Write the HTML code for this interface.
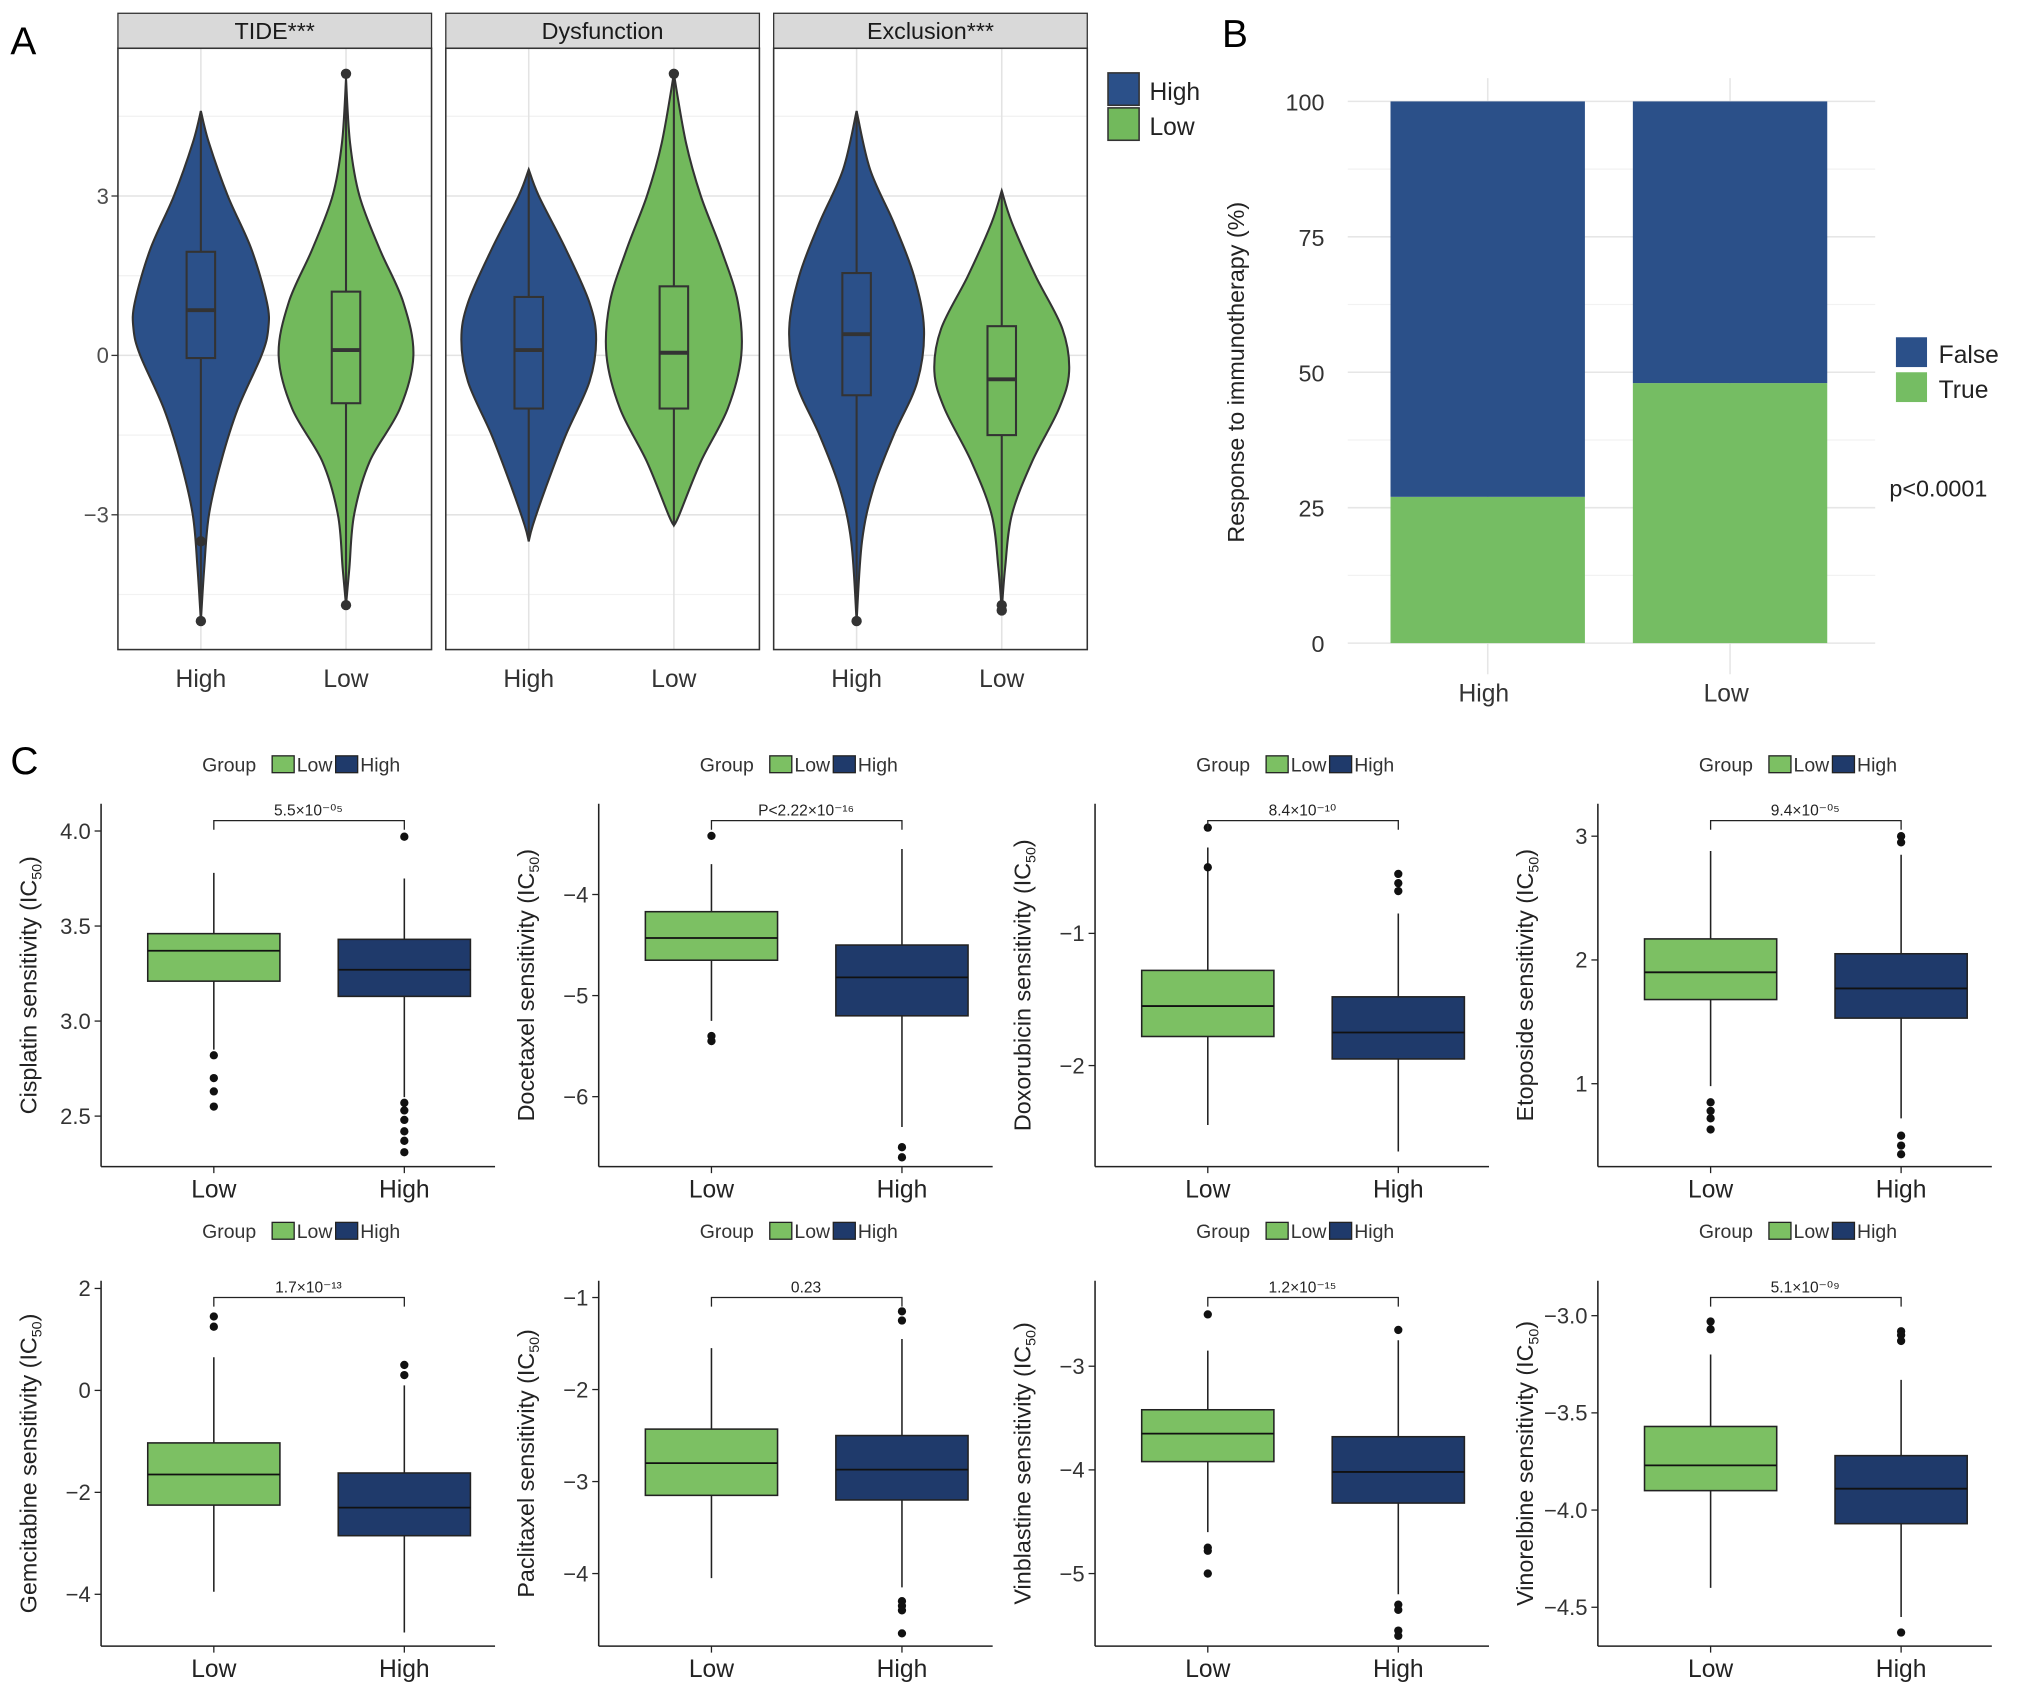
<!DOCTYPE html>
<html><head><meta charset="utf-8"><style>
html,body{margin:0;padding:0;background:#fff;}
svg{display:block;font-family:"Liberation Sans",sans-serif;}
</style></head><body>
<svg id="fig" width="2032" height="1697" viewBox="0 0 1568 1309" xmlns="http://www.w3.org/2000/svg"></svg>
<script>
// ---------- Panel A data ----------
const facetNames = ["TIDE***", "Dysfunction", "Exclusion***"];
const groupsA = ["High", "Low"];
const violinShapes = [
  [[4.6,0],[4,0.12],[3,0.4],[2,0.75],[1,0.98],[0.5,1],[0,0.9],[-1,0.55],[-2,0.3],[-3,0.12],[-4,0.05],[-5,0]],
  [[5.2,0],[4,0.06],[3,0.2],[2,0.5],[1,0.85],[0,1],[-1,0.8],[-2,0.35],[-3,0.12],[-4,0.05],[-4.7,0]],
  [[3.5,0],[3,0.15],[2,0.55],[1,0.9],[0.3,1],[-0.5,0.9],[-1.5,0.55],[-2.5,0.25],[-3.2,0.06],[-3.5,0]],
  [[5.3,0],[4,0.18],[3,0.4],[2,0.7],[1,0.95],[0,1],[-1,0.8],[-2,0.4],[-3,0.08],[-3.2,0]],
  [[4.6,0],[3.5,0.2],[2.5,0.55],[1.5,0.85],[0.5,1],[-0.5,0.9],[-1.5,0.55],[-2.5,0.25],[-3.5,0.08],[-5,0]],
  [[3.1,0],[2.5,0.15],[1.5,0.5],[0.5,0.9],[-0.3,1],[-1,0.85],[-2,0.45],[-3,0.15],[-4,0.05],[-4.8,0]]
];
// [min, q1, median, q3, max]
const violinBoxes = [
  [-5,-0.05,0.85,1.95,4.6],[-4.7,-0.9,0.1,1.2,5.3],
  [-3.5,-1.0,0.1,1.1,3.5],[-3.2,-1.0,0.05,1.3,5.3],
  [-5,-0.75,0.4,1.55,4.6],[-4.8,-1.5,-0.45,0.55,3.1]
];
const violinPoints = [[-5,-3.5],[5.3,-4.7],[],[5.3],[-5],[-4.7,-4.8]];
const ticksA = [-3, 0, 3];

// ---------- Panel B data ----------
const groupsB = ["High", "Low"];
const trueB = [27, 48];
const falseB = [73, 52];
const ticksB = [0, 25, 50, 75, 100];

// ---------- Panel C data ----------
const drugs = ["Cisplatin","Docetaxel","Doxorubicin","Etoposide","Gemcitabine","Paclitaxel","Vinblastine","Vinorelbine"];
const pvals = ["5.5×10⁻⁰⁵","P<2.22×10⁻¹⁶","8.4×10⁻¹⁰","9.4×10⁻⁰⁵","1.7×10⁻¹³","0.23","1.2×10⁻¹⁵","5.1×10⁻⁰⁹"];
const tickVals = [[2.5,3.0,3.5,4.0],[-6,-5,-4],[-2,-1],[1,2,3],[-4,-2,0,2],[-4,-3,-2,-1],[-5,-4,-3],[-4.5,-4.0,-3.5,-3.0]];
const tickLabels = [["2.5","3.0","3.5","4.0"],["−6","−5","−4"],["−2","−1"],["1","2","3"],["−4","−2","0","2"],["−4","−3","−2","−1"],["−5","−4","−3"],["−4.5","−4.0","−3.5","−3.0"]];
const lowStats = [[2.85,3.21,3.37,3.46,3.78],[-5.25,-4.65,-4.43,-4.17,-3.7],[-2.45,-1.78,-1.55,-1.28,-0.35],[0.98,1.68,1.9,2.17,2.88],
  [-3.95,-2.25,-1.65,-1.03,0.65],[-4.05,-3.15,-2.8,-2.43,-1.55],[-4.6,-3.92,-3.65,-3.42,-2.85],[-4.4,-3.9,-3.77,-3.57,-3.2]];
const highStats = [[2.6,3.13,3.27,3.43,3.75],[-6.3,-5.2,-4.82,-4.5,-3.55],[-2.65,-1.95,-1.75,-1.48,-0.85],[0.72,1.53,1.77,2.05,2.85],
  [-4.75,-2.85,-2.3,-1.62,0.1],[-4.15,-3.2,-2.87,-2.5,-1.45],[-5.2,-4.32,-4.02,-3.68,-2.75],[-4.55,-4.07,-3.89,-3.72,-3.33]];
const lowOut = [[2.82,2.7,2.63,2.55],[-3.42,-5.4,-5.45],[-0.2,-0.5],[0.85,0.78,0.72,0.63],[1.45,1.25],[],[-2.5,-4.75,-4.78,-5.0],[-3.03,-3.07]];
const highOut = [[3.97,2.57,2.53,2.48,2.42,2.37,2.31],[-6.5,-6.6],[-0.55,-0.62,-0.68],[3.0,2.95,0.58,0.5,0.43],[0.5,0.3],[-1.15,-1.25,-4.3,-4.35,-4.4,-4.65],[-2.65,-5.3,-5.35,-5.55,-5.6],[-3.08,-3.1,-3.13,-4.63]];
const yDomains = [[4.0,2.5],[-4,-6],[-1,-2],[3,1],[2,-4],[-1,-4],[-3,-5],[-3.0,-4.5]];

const NS = "http://www.w3.org/2000/svg";
const svg = document.getElementById("fig");
function mk(tag, attrs, name, parent, text) {
  const el = document.createElementNS(NS, tag);
  for (const k in attrs) el.setAttribute(k, attrs[k]);
  
  
  if (text !== undefined) el.textContent = text;
  (parent || svg).appendChild(el);
  return el;
}
function smoothPath(P) {
  let d = "M" + P[0][0] + "," + P[0][1];
  for (let i = 0; i < P.length - 1; i++) {
    const p0 = P[Math.max(i-1,0)], p1 = P[i], p2 = P[i+1], p3 = P[Math.min(i+2,P.length-1)];
    const c1 = [p1[0] + (p2[0]-p0[0])/6, p1[1] + (p2[1]-p0[1])/6];
    const c2 = [p2[0] - (p3[0]-p1[0])/6, p2[1] - (p3[1]-p1[1])/6];
    d += ` C${c1[0]},${c1[1]} ${c2[0]},${c2[1]} ${p2[0]},${p2[1]}`;
  }
  return d + "Z";
}
const BLUE = "#2b5089", GREEN = "#72b95c", NAVY = "#1f3a6b", LGREEN = "#7cc063";

// ---------- Panel A ----------
mk("text", {x:8, y:42, "font-size":30}, "panel-a-label", svg, "A");
const facetX = [91, 344, 597], facetW = 242, pTop = 37, pBot = 501;
const yA = v => 274 - v * 41;
facetX.forEach((fx, f) => {
  const g = mk("g", {}, "facet-" + f);
  mk("rect", {x:fx, y:10, width:facetW, height:27, fill:"#d9d9d9", stroke:"#333", "stroke-width":1}, "facet-strip", g);
  mk("text", {x:fx + facetW/2, y:30, "font-size":18, "text-anchor":"middle", fill:"#1a1a1a"}, "facet-title", g, facetNames[f]);
  mk("rect", {x:fx, y:pTop, width:facetW, height:pBot-pTop, fill:"#fff"}, "facet-bg", g);
  [-4.5,-1.5,1.5,4.5].forEach(v => mk("line", {x1:fx, x2:fx+facetW, y1:yA(v), y2:yA(v), stroke:"#f2f2f2"}, "minor-grid", g));
  ticksA.forEach(v => mk("line", {x1:fx, x2:fx+facetW, y1:yA(v), y2:yA(v), stroke:"#e3e3e3", "stroke-width":1.2}, "major-grid", g));
  [64, 176].forEach(o => mk("line", {x1:fx+o, x2:fx+o, y1:pTop, y2:pBot, stroke:"#e3e3e3", "stroke-width":1.2}, "x-grid", g));
  groupsA.forEach((gr, i) => {
    const k = f*2 + i, cx = fx + (i ? 176 : 64), col = i ? GREEN : BLUE;
    const shp = violinShapes[k];
    let pts = shp.map(p => [cx + p[1]*52, yA(p[0])]);
    pts = pts.concat(shp.slice(1, -1).reverse().map(p => [cx - p[1]*52, yA(p[0])]));
    const right = shp.map(p => [cx + p[1]*52, yA(p[0])]);
    const left = shp.slice().reverse().map(p => [cx - p[1]*52, yA(p[0])]);
    const dR = smoothPath(right).slice(0, -1);
    const dL = smoothPath(left).slice(0, -1).replace(/^M[^ C]+/, "");
    mk("path", {d: dR + " L" + left[0][0] + "," + left[0][1] + dL + "Z", fill:col, stroke:"#333", "stroke-width":1.6}, "violin-" + gr.toLowerCase(), g);
    const b = violinBoxes[k];
    mk("line", {x1:cx, x2:cx, y1:yA(b[0]), y2:yA(b[4]), stroke:"#333", "stroke-width":1.6}, "whisker", g);
    mk("rect", {x:cx-11, y:yA(b[3]), width:22, height:yA(b[1])-yA(b[3]), fill:col, stroke:"#333", "stroke-width":1.6}, "box", g);
    mk("line", {x1:cx-11, x2:cx+11, y1:yA(b[2]), y2:yA(b[2]), stroke:"#333", "stroke-width":3}, "median", g);
    violinPoints[k].forEach(v => mk("circle", {cx:cx, cy:yA(v), r:4, fill:"#333"}, "outlier", g));
    mk("text", {x:cx, y:530, "font-size":19, "text-anchor":"middle", fill:"#333"}, "x-tick-label", g, gr);
  });
  mk("rect", {x:fx, y:pTop, width:facetW, height:pBot-pTop, fill:"none", stroke:"#333", "stroke-width":1.2}, "facet-border", g);
});
ticksA.forEach(v => {
  mk("text", {x:84, y:yA(v)+6, "font-size":17, "text-anchor":"end", fill:"#4d4d4d"}, "y-tick-label", svg, v < 0 ? "−" + (-v) : String(v));
  mk("line", {x1:86, x2:91, y1:yA(v), y2:yA(v), stroke:"#333"}, "y-tick", svg);
});
[["High", BLUE, 56],["Low", GREEN, 83]].forEach(l => {
  mk("rect", {x:855, y:l[2], width:24, height:25, fill:l[1], stroke:"#333", "stroke-width":1.2}, "legend-key-" + l[0].toLowerCase());
  mk("text", {x:887, y:l[2]+21, "font-size":19, fill:"#222"}, "legend-label-" + l[0].toLowerCase(), svg, l[0]);
});

// ---------- Panel B ----------
mk("text", {x:943, y:36, "font-size":30}, "panel-b-label", svg, "B");
const yB = v => 496 - v * 4.18;
[12.5,37.5,62.5,87.5].forEach(v => mk("line", {x1:1040, x2:1447, y1:yB(v), y2:yB(v), stroke:"#f2f2f2"}, "minor-grid"));
ticksB.forEach(v => {
  mk("line", {x1:1040, x2:1447, y1:yB(v), y2:yB(v), stroke:"#e6e6e6", "stroke-width":1.2}, "major-grid");
  mk("text", {x:1022, y:yB(v)+7, "font-size":18, "text-anchor":"end", fill:"#333"}, "y-tick-label", svg, String(v));
});
const barX = [1073, 1260];
groupsB.forEach((gr, i) => {
  mk("line", {x1:barX[i]+75, x2:barX[i]+75, y1:60, y2:520, stroke:"#e6e6e6", "stroke-width":1.2}, "x-grid");
});
groupsB.forEach((gr, i) => {
  mk("rect", {x:barX[i], y:yB(trueB[i]), width:150, height:yB(0)-yB(trueB[i]), fill:"#75bd63"}, "bar-true-" + gr.toLowerCase());
  mk("rect", {x:barX[i], y:yB(trueB[i]+falseB[i]), width:150, height:yB(trueB[i])-yB(trueB[i]+falseB[i]), fill:BLUE}, "bar-false-" + gr.toLowerCase());
  mk("text", {x:barX[i]+72, y:541, "font-size":19, "text-anchor":"middle", fill:"#333"}, "x-tick-label", svg, gr);
});
mk("text", {x:0, y:0, "font-size":18, "text-anchor":"middle", fill:"#222", transform:"translate(960,287) rotate(-90)"}, "y-axis-title", svg, "Response to immunotherapy (%)");
[["False", BLUE, 260],["True", "#75bd63", 287]].forEach(l => {
  mk("rect", {x:1463, y:l[2], width:24, height:23, fill:l[1]}, "legend-key-" + l[0].toLowerCase());
  mk("text", {x:1496, y:l[2]+20, "font-size":19, fill:"#222"}, "legend-label-" + l[0].toLowerCase(), svg, l[0]);
});
mk("text", {x:1458, y:383, "font-size":18, fill:"#222"}, "p-value", svg, "p<0.0001");

// ---------- Panel C ----------
mk("text", {x:8, y:597, "font-size":30}, "panel-c-label", svg, "C");
const axX = [78, 462, 845, 1233];
const refPx = [[641,861],[690,846],[720,822],[645,836],[994,1230],[1001,1214],[1054,1214],[1015,1240]];
drugs.forEach((d, k) => {
  const row = k < 4 ? 0 : 1, col = k % 4, ax = axX[col];
  const top = row ? 988 : 620, bot = row ? 1270 : 900;
  const [v0, v1] = yDomains[k], [p0, p1] = refPx[k];
  const y = v => p0 + (v - v0) * (p1 - p0) / (v1 - v0);
  const g = mk("g", {}, "boxplot-" + d.toLowerCase());
  const ly = row ? 949 : 589;
  mk("text", {x:ax+78, y:ly+6, "font-size":15, fill:"#333"}, "legend-title", g, "Group");
  mk("rect", {x:ax+132, y:ly-6, width:17, height:13, fill:LGREEN, stroke:"#222"}, "legend-key-low", g);
  mk("text", {x:ax+151, y:ly+6, "font-size":15, fill:"#333"}, "legend-label-low", g, "Low");
  mk("rect", {x:ax+181, y:ly-6, width:17, height:13, fill:NAVY, stroke:"#222"}, "legend-key-high", g);
  mk("text", {x:ax+200, y:ly+6, "font-size":15, fill:"#333"}, "legend-label-high", g, "High");
  mk("line", {x1:ax, x2:ax, y1:top, y2:bot, stroke:"#222", "stroke-width":1.2}, "y-axis", g);
  mk("line", {x1:ax, x2:ax+304, y1:bot, y2:bot, stroke:"#222", "stroke-width":1.2}, "x-axis", g);
  tickVals[k].forEach((v, t) => {
    mk("line", {x1:ax-5, x2:ax, y1:y(v), y2:y(v), stroke:"#222"}, "y-tick", g);
    mk("text", {x:ax-8, y:y(v)+6, "font-size":17, "text-anchor":"end", fill:"#333"}, "y-tick-label", g, tickLabels[k][t]);
  });
  const t = mk("text", {x:0, y:0, "font-size":18, "text-anchor":"middle", fill:"#222", transform:`translate(${ax-50},${(top+bot)/2}) rotate(-90)`}, "y-axis-title", g, d + " sensitivity (IC");
  mk("tspan", {"font-size":11, dy:4}, "subscript", t, "50");
  mk("tspan", {dy:-4}, "paren", t, ")");
  [[lowStats[k], lowOut[k], 87, LGREEN, "Low"], [highStats[k], highOut[k], 234, NAVY, "High"]].forEach(b => {
    const s = b[0], cx = ax + b[2];
    mk("line", {x1:cx, x2:cx, y1:y(s[0]), y2:y(s[4]), stroke:"#222", "stroke-width":1.2}, "whisker", g);
    mk("rect", {x:cx-51, y:y(s[3]), width:102, height:y(s[1])-y(s[3]), fill:b[3], stroke:"#222", "stroke-width":1.2}, "box-" + b[4].toLowerCase(), g);
    mk("line", {x1:cx-51, x2:cx+51, y1:y(s[2]), y2:y(s[2]), stroke:"#111", "stroke-width":1.4}, "median", g);
    b[1].forEach(v => mk("circle", {cx:cx, cy:y(v), r:3.2, fill:"#111"}, "outlier", g));
    mk("line", {x1:cx, x2:cx, y1:bot, y2:bot+5, stroke:"#222"}, "x-tick", g);
    mk("text", {x:cx, y:bot+24, "font-size":19, "text-anchor":"middle", fill:"#222"}, "x-tick-label", g, b[4]);
  });
  const by = top + 13;
  mk("path", {d:`M${ax+87},${by+7} V${by} H${ax+234} V${by+7}`, fill:"none", stroke:"#222", "stroke-width":1}, "significance-bracket", g);
  mk("text", {x:ax+160, y:by-4, "font-size":12, "text-anchor":"middle", fill:"#222"}, "p-value", g, pvals[k]);
});
</script>
</body></html>
